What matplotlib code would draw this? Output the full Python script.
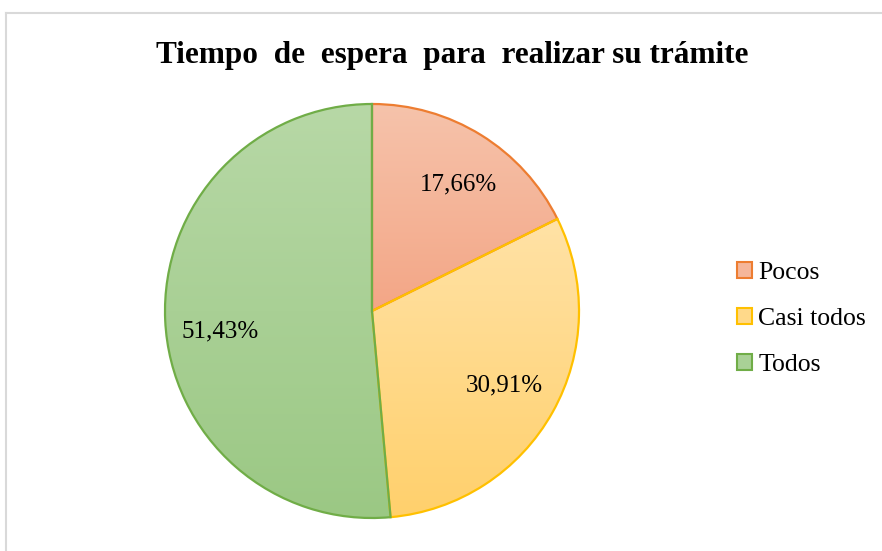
import numpy as np
import matplotlib
matplotlib.use("Agg")
import matplotlib.pyplot as plt
from matplotlib.patches import Patch
from matplotlib.colors import LinearSegmentedColormap

# data
labels = ["Pocos", "Casi todos", "Todos"]
values = [17.66, 30.91, 51.43]
pct_text = ["17,66%", "30,91%", "51,43%"]

# gradient colours (top, bottom) and outline colour per slice
top_colors = ["#F6C3AB", "#FFE2A6", "#B7D8A6"]
bottom_colors = ["#F3A686", "#FFD06C", "#9BC884"]
edge_colors = ["#ED7D31", "#FFC000", "#70AD47"]
legend_colors = ["#F5B69A", "#FFD98A", "#A9D196"]
# small nudges of the percent labels (axes units), like Excel's placement
label_nudge = [(0.03, -0.015), (0.0, 0.0), (0.0, -0.065)]

plt.rcParams["font.family"] = ["Liberation Serif", "DejaVu Serif"]

W, H = 882, 551
fig = plt.figure(figsize=(W / 100, H / 100), dpi=100)

# light frame (top and left visible, rest runs off the picture)
frame = fig.add_axes([0, 0, 1, 1])
frame.set_xlim(0, W)
frame.set_ylim(H, 0)
frame.axis("off")
frame.plot([6, W + 5], [13, 13], color="#D9D9D9", lw=1.5)
frame.plot([6, 6], [13, H + 5], color="#D9D9D9", lw=1.5)

fig.text(452 / W, 1 - 55 / H, "Tiempo  de  espera  para  realizar su trámite",
         ha="center", va="center", fontsize=22.5, fontweight="bold")

# pie axes: centre (372, 311) px, radius 207 px
cx, cy, r = 372, 311, 207
ax = fig.add_axes([(cx - r) / W, (H - cy - r) / H, 2 * r / W, 2 * r / H])
wedges, _ = ax.pie(values, startangle=90, counterclock=False,
                   wedgeprops=dict(linewidth=1.6))
ax.axis("off")

grad = np.linspace(0, 1, 256).reshape(-1, 1)
for w, tc, bc, ec, txt, nd in zip(wedges, top_colors, bottom_colors,
                                  edge_colors, pct_text, label_nudge):
    w.set_facecolor("none")
    w.set_edgecolor(ec)
    w.set_zorder(3)
    cmap = LinearSegmentedColormap.from_list("g", [tc, bc])
    # gradient over the extent of this wedge
    ext = w.get_path().get_extents()
    im = ax.imshow(grad, cmap=cmap, aspect="auto", zorder=2,
                   extent=[-1, 1, ext.y0, ext.y1], origin="upper",
                   interpolation="bilinear")
    im.set_clip_path(w)
    ang = np.deg2rad((w.theta1 + w.theta2) / 2)
    ax.text(0.735 * np.cos(ang) + nd[0], 0.735 * np.sin(ang) + nd[1], txt,
            ha="center", va="center", fontsize=18, zorder=4)
ax.set_xlim(-1, 1)
ax.set_ylim(-1, 1)

handles = [Patch(facecolor=fc, edgecolor=ec, linewidth=1.5)
           for fc, ec in zip(legend_colors, edge_colors)]
fig.legend(handles, labels, loc="center left", bbox_to_anchor=(737 / W, 1 - 319 / H),
           frameon=False, fontsize=18.5, handlelength=0.58, handleheight=0.58,
           handletextpad=0.25, labelspacing=0.94, borderpad=0, borderaxespad=0)

fig.savefig("out.png", dpi=100)
